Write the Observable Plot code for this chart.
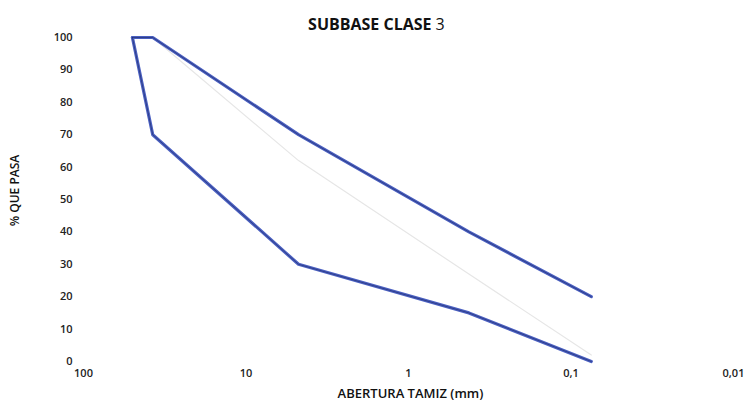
<!DOCTYPE html>
<html><head><meta charset="utf-8">
<script src="https://cdn.jsdelivr.net/npm/d3@7"></script>
<script src="https://cdn.jsdelivr.net/npm/@observablehq/plot@0.6"></script>
<style>body{margin:0;background:#fff;} svg{display:block;}</style>
</head><body><div id="chart"></div>
<script>
const tamices = [50, 37.5, 4.75, 0.425, 0.075];      // abertura (mm)
const limiteSuperior = [100, 100, 70, 40, 20];
const limiteInferior = [100, 70, 30, 15, 0];
const medioTamices = [37.5, 4.75, 0.425, 0.075];
const medioValores = [100, 62, 27, 2];
const xTicks = [100, 10, 1, 0.1, 0.01];
const xTickLabels = ["100", "10", "1", "0,1", "0,01"];
const yTicks = [0, 10, 20, 30, 40, 50, 60, 70, 80, 90, 100];

const sup = tamices.map((t, i) => ({t, v: limiteSuperior[i]}));
const inf = tamices.map((t, i) => ({t, v: limiteInferior[i]}));
const med = medioTamices.map((t, i) => ({t, v: medioValores[i]}));

const font = "'Open Sans', sans-serif";
const chart = Plot.plot({
  width: 748, height: 410,
  marginLeft: 83, marginRight: 15, marginTop: 37, marginBottom: 49,
  style: {fontFamily: font, fontSize: "11px", color: "#222", background: "#fff"},
  x: {type: "log", domain: [100, 0.01], label: null},
  y: {domain: [0, 100], label: null},
  marks: [
    Plot.axisX({ticks: xTicks, tickFormat: d => xTickLabels[xTicks.indexOf(d)], tickSize: 0, tickPadding: 8, fontWeight: 600, fontSize: 11, label: null}),
    Plot.axisY({ticks: yTicks, tickSize: 0, tickPadding: 11, fontWeight: 600, fontSize: 11, label: null}),
    Plot.line(med, {x: "t", y: "v", stroke: "#e6e6e6", strokeWidth: 1.2}),
    Plot.line(sup, {x: "t", y: "v", stroke: "#4a5fc1", strokeWidth: 3.2}),
    Plot.line(inf, {x: "t", y: "v", stroke: "#4a5fc1", strokeWidth: 3.2}),
    Plot.line(sup, {x: "t", y: "v", stroke: "#1d2a66", strokeWidth: 1, strokeOpacity: 0.6}),
    Plot.line(inf, {x: "t", y: "v", stroke: "#1d2a66", strokeWidth: 1, strokeOpacity: 0.6}),
    Plot.text(["SUBBASE CLASE"], {frameAnchor: "top", textAnchor: "end", dy: -19, dx: 23, fontSize: 16, fontWeight: 700, fill: "#111"}),
    Plot.text(["3"], {frameAnchor: "top", textAnchor: "start", dy: -19, dx: 27, fontSize: 16, fontWeight: 400, fill: "#111"}),
    Plot.text(["ABERTURA TAMIZ (mm)"], {frameAnchor: "bottom", dy: 36, dx: 2, fontSize: 13, fontWeight: 600, fill: "#111"}),
    Plot.text(["% QUE PASA"], {frameAnchor: "left", textAnchor: "middle", dx: -68, dy: -9, rotate: -90, fontSize: 12, fontWeight: 600, fill: "#111"})
  ]
});
document.getElementById("chart").append(chart);
</script></body></html>
